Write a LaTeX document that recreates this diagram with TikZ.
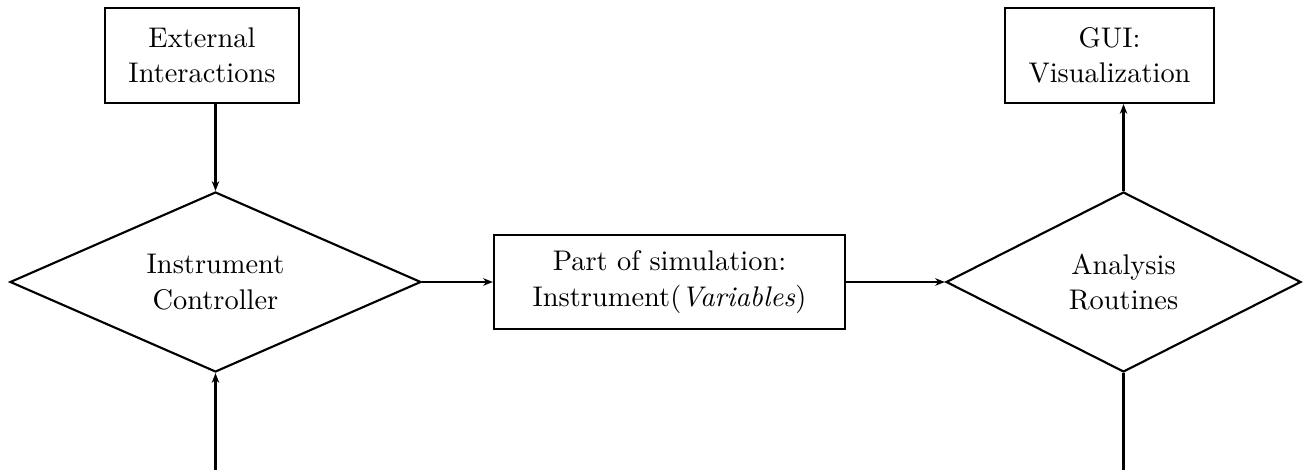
\documentclass[tikz,border=0pt]{standalone}
\usetikzlibrary{shapes.geometric,arrows.meta}
\begin{document}
\begin{tikzpicture}[x={(0.352pt,0)},y={(0,-0.352pt)},
  box/.style={draw,line width=0.75pt,align=center,inner sep=0pt,font=\fontsize{10}{12.5}\selectfont},
  dia/.style={draw,diamond,line width=0.75pt,align=center,inner sep=0pt,font=\fontsize{10}{12.5}\selectfont},
  conn/.style={line width=0.75pt},
  arr/.style={conn,-{Stealth[length=3.4pt,width=2.6pt,inset=1pt]}}]
\useasboundingbox (0,0) rectangle (1311,470);
\node[box,minimum width=194*0.352pt,minimum height=95*0.352pt] (ext) at (202,55.5) {External\\Interactions};
\node[box,minimum width=209*0.352pt,minimum height=95*0.352pt] (gui) at (1109.5,55.5) {GUI:\\Visualization};
\node[box,minimum width=351*0.352pt,minimum height=94*0.352pt] (mid) at (669.5,282) {Part of simulation:\\Instrument(\textit{Variables})};
\node[dia,shape aspect=2.283,minimum width=411*0.352pt,minimum height=180*0.352pt] (ld) at (215.5,282) {Instrument\\Controller};
\node[dia,shape aspect=1.972,minimum width=355*0.352pt,minimum height=180*0.352pt] (rd) at (1123.5,282) {Analysis\\Routines};
\coordinate (lb) at (215.5,470);
\coordinate (rb) at (1123.5,470);
\draw[arr] (ld.north |- ext.south) -- (ld.north);
\draw[arr] (lb) -- (ld.south);
\draw[arr] (ld.east) -- (mid.west);
\draw[arr] (mid.east) -- (rd.west);
\draw[arr] (rd.north) -- (rd.north |- gui.south);
\draw[conn] (rd.south) -- (rb);
\end{tikzpicture}
\end{document}
